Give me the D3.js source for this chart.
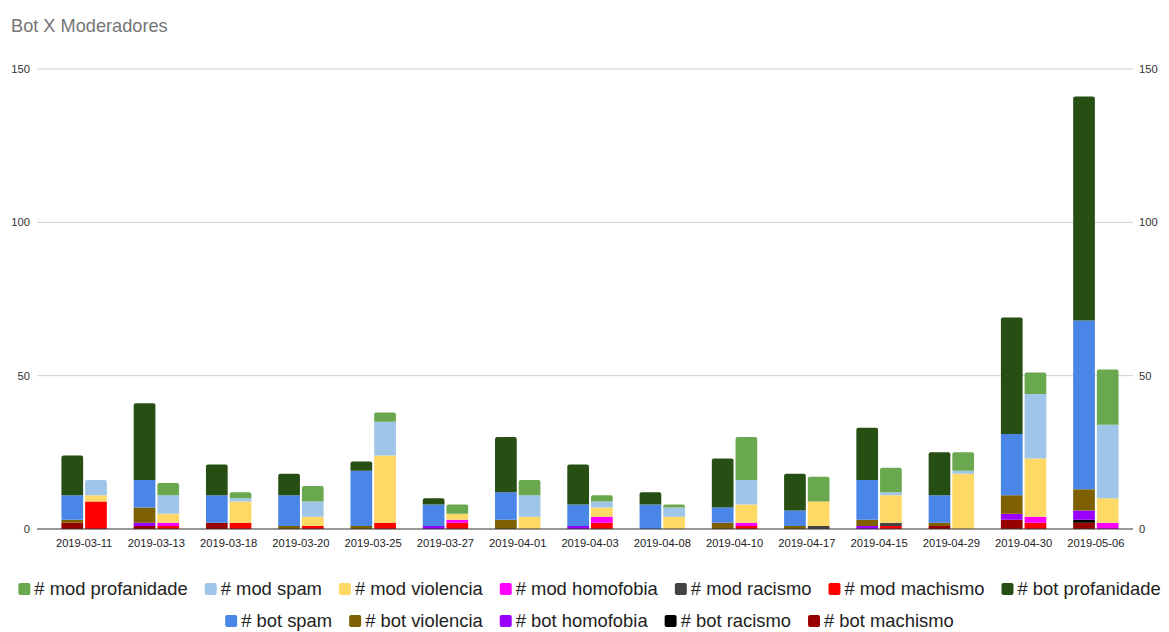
<!DOCTYPE html>
<html>
<head>
<meta charset="utf-8">
<script src="https://cdn.jsdelivr.net/npm/d3@7"></script>
<style>
  html, body { margin: 0; padding: 0; background: #fff; }
  svg { display: block; font-family: "Liberation Sans", Arial, sans-serif; }
</style>
</head>
<body>
<svg id="chart" width="1169" height="632"></svg>
<script>
// Review dates (x categories)
const dates = ["2019-03-11","2019-03-13","2019-03-18","2019-03-20","2019-03-25","2019-03-27","2019-04-01","2019-04-03","2019-04-08","2019-04-10","2019-04-17","2019-04-15","2019-04-29","2019-04-30","2019-05-06"];

// Bot counts per category
const botMachismo   = [2,1,2,0,0,0,0,0,0,0,0,0,1,3,2];
const botRacismo    = [0,0,0,0,0,0,0,0,0,0,0,0,0,0,1];
const botHomofobia  = [0,1,0,0,0,1,0,1,0,0,0,1,0,2,3];
const botViolencia  = [1,5,0,1,1,0,3,0,0,2,1,2,1,6,7];
const botSpam       = [8,9,9,10,18,7,9,7,8,5,5,13,9,20,55];
const botProfanidade= [13,25,10,7,3,2,18,13,4,16,12,17,14,38,73];

// Moderator counts per category
const modMachismo   = [9,1,2,1,2,2,0,2,0,1,0,1,0,2,0];
const modRacismo    = [0,0,0,0,0,0,0,0,0,0,1,1,0,0,0];
const modHomofobia  = [0,1,0,0,0,1,0,2,0,1,0,0,0,2,2];
const modViolencia  = [2,3,7,3,22,2,4,3,4,6,8,9,18,19,8];
const modSpam       = [5,6,1,5,11,0,7,2,3,8,0,1,1,21,24];
const modProfanidade= [0,4,2,5,3,3,5,2,1,14,8,8,6,7,18];

const yTicks = [0, 50, 100, 150];

// Stack order, bottom to top
const keys = ["machismo","racismo","homofobia","violencia","spam","profanidade"];

const botSeries = { machismo: botMachismo, racismo: botRacismo, homofobia: botHomofobia,
                    violencia: botViolencia, spam: botSpam, profanidade: botProfanidade };
const modSeries = { machismo: modMachismo, racismo: modRacismo, homofobia: modHomofobia,
                    violencia: modViolencia, spam: modSpam, profanidade: modProfanidade };

const botColors = { machismo: "#990000", racismo: "#000000", homofobia: "#9900ff",
                    violencia: "#7f6000", spam: "#4a86e8", profanidade: "#274e13" };
const modColors = { machismo: "#ff0000", racismo: "#434343", homofobia: "#ff00ff",
                    violencia: "#ffd966", spam: "#9fc5e8", profanidade: "#6aa84f" };

const legendRows = [
  [["# mod profanidade", modColors.profanidade], ["# mod spam", modColors.spam],
   ["# mod violencia", modColors.violencia], ["# mod homofobia", modColors.homofobia],
   ["# mod racismo", modColors.racismo], ["# mod machismo", modColors.machismo],
   ["# bot profanidade", botColors.profanidade]],
  [["# bot spam", botColors.spam], ["# bot violencia", botColors.violencia],
   ["# bot homofobia", botColors.homofobia], ["# bot racismo", botColors.racismo],
   ["# bot machismo", botColors.machismo]]
];

const svg = d3.select("#chart");

const x = d3.scaleBand().domain(dates).range([48, 1132]).padding(0);
const y = d3.scaleLinear().domain([0, 150]).range([529, 69]);

const barW = 21.7, gap = 2;

// Title
svg.append("text")
  .attr("x", 11).attr("y", 32)
  .attr("font-size", 18.2).attr("fill", "#757575")
  .text("Bot X Moderadores");

// Gridlines
svg.append("g").selectAll("line").data(yTicks.filter(t => t > 0)).join("line")
  .attr("x1", 37).attr("x2", 1133)
  .attr("y1", d => y(d)).attr("y2", d => y(d))
  .attr("stroke", "#d0d0d0").attr("stroke-width", 1);

// Left and right value axes
const leftAxis = d3.axisLeft(y).tickValues(yTicks).tickSize(0).tickPadding(0);
const gl = svg.append("g").attr("transform", "translate(30,0)").call(leftAxis);
const rightAxis = d3.axisRight(y).tickValues(yTicks).tickSize(0).tickPadding(0);
const gr = svg.append("g").attr("transform", "translate(1139,0)").call(rightAxis);
[gl, gr].forEach(g => {
  g.select(".domain").remove();
  g.selectAll("text").attr("font-size", 11.2).attr("fill", "#333")
    .attr("font-family", "'Liberation Sans', Arial, sans-serif");
});

// Rect with rounded top corners only
function topRounded(x0, y0, w, h, r) {
  r = Math.min(r, h, w / 2);
  return `M${x0},${y0 + h}V${y0 + r}Q${x0},${y0} ${x0 + r},${y0}H${x0 + w - r}` +
         `Q${x0 + w},${y0} ${x0 + w},${y0 + r}V${y0 + h}Z`;
}

function drawStack(series, colors, offset) {
  const rows = dates.map((d, i) => {
    const o = { date: d };
    keys.forEach(k => { o[k] = series[k][i]; });
    return o;
  });
  const stacked = d3.stack().keys(keys)(rows);
  // topmost non-empty layer per date gets rounded corners
  const topKey = rows.map(r => { let t = null; keys.forEach(k => { if (r[k] > 0) t = k; }); return t; });
  const g = svg.append("g");
  stacked.forEach(layer => {
    g.append("g").attr("fill", colors[layer.key])
      .selectAll("path").data(layer.filter(d => d[1] > d[0])).join("path")
      .attr("d", d => {
        const i = dates.indexOf(d.data.date);
        const cx = x(d.data.date) + x.bandwidth() / 2;
        const x0 = cx + offset;
        const y0 = y(d[1]), h = y(d[0]) - y(d[1]);
        const r = topKey[i] === layer.key ? 2 : 0;
        return topRounded(x0, y0, barW, h, r);
      });
  });
}

drawStack(botSeries, botColors, -gap / 2 - barW);
drawStack(modSeries, modColors, gap / 2);

// Baseline
svg.append("line")
  .attr("x1", 37).attr("x2", 1133)
  .attr("y1", y(0)).attr("y2", y(0))
  .attr("stroke", "#333").attr("stroke-width", 1.2);

// Category axis
const xAxis = d3.axisBottom(x).tickSize(0).tickPadding(10);
const gx = svg.append("g").attr("transform", `translate(0,${y(0)})`).call(xAxis);
gx.select(".domain").remove();
gx.selectAll("text").attr("font-size", 11.2).attr("fill", "#222")
  .attr("font-family", "'Liberation Sans', Arial, sans-serif");

// Legend, two centred rows
const legendY = [589, 621];
const fs = 18.4, sw = 12, swGap = 4, itemGap = 17;
legendRows.forEach((row, ri) => {
  const lg = svg.append("g");
  let cursor = 0;
  row.forEach(([label, color]) => {
    const item = lg.append("g").attr("transform", `translate(${cursor},0)`);
    item.append("rect").attr("x", 0).attr("y", -sw / 2).attr("width", sw).attr("height", sw)
      .attr("rx", 2).attr("fill", color);
    const t = item.append("text").attr("x", sw + swGap).attr("dy", "0.35em")
      .attr("font-size", fs).attr("fill", "#222").text(label);
    cursor += sw + swGap + t.node().getComputedTextLength() + itemGap;
  });
  const total = cursor - itemGap;
  lg.attr("transform", `translate(${(1169 - total) / 2 + 5},${legendY[ri]})`);
});
</script>
</body>
</html>
